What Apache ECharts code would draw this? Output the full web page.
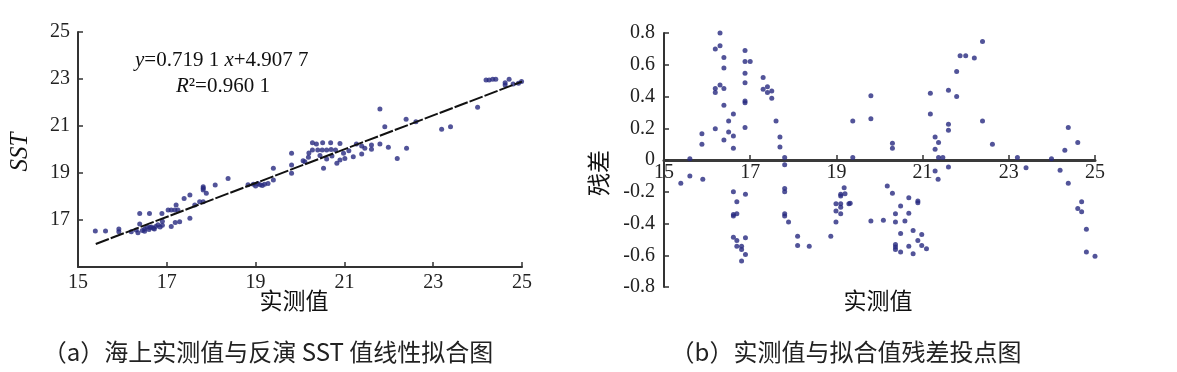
<!DOCTYPE html>
<html>
<head>
<meta charset="utf-8">
<style>
html,body{margin:0;padding:0;background:#fff;}
#c{width:1177px;height:372px;}
</style>
<script src="https://cdn.jsdelivr.net/npm/echarts@6/dist/echarts.min.js"></script>
</head>
<body>
<div id="c"></div>
<script>
// ---- data (left: measured vs retrieved SST) ----
var xTicks = [15, 17, 19, 21, 23, 25];
var fitPoints = [[15.4, 15.98], [25.0, 22.89]];
var sstPoints = [
[15.39,16.53],[15.62,16.53],[15.92,16.62],[15.92,16.5],[16.2,16.5],[16.31,16.57],[16.35,16.46],[16.39,16.83],
[16.39,17.28],[16.61,17.28],[16.45,16.55],[16.5,16.62],[16.55,16.7],[16.6,16.6],[16.65,16.7],[16.7,16.65],
[16.75,16.72],[16.8,16.8],[16.85,16.7],[16.9,16.95],[16.9,16.78],[16.62,16.68],[16.72,16.62],[16.5,16.52],
[16.89,17.28],[17.03,17.43],[17.1,17.43],[17.18,17.43],[17.21,17.64],[17.1,16.72],[17.19,16.89],[17.29,16.93],
[17.25,17.43],[17.39,17.92],[17.52,18.06],[17.52,17.07],[17.63,17.64],[17.74,17.78],[17.82,17.78],[17.82,18.42],
[17.82,18.35],[17.82,18.28],[17.89,18.14],[18.09,18.49],[18.38,18.77],[18.83,18.5],[18.95,18.52],[19.0,18.45],
[19.05,18.55],[19.1,18.5],[19.15,18.47],[19.2,18.52],[19.28,18.55],[19.4,19.2],[19.4,18.7],[19.81,19.84],
[19.81,19.34],[19.81,18.99],[20.07,19.52],[20.19,19.67],[20.11,19.48],[20.28,20.29],[20.37,20.23],[20.51,20.29],
[20.69,20.29],[20.9,20.26],[20.28,19.98],[20.4,19.98],[20.5,19.98],[20.6,19.98],[20.7,20.0],[20.8,19.98],
[20.53,19.2],[20.98,19.84],[21.01,19.62],[20.9,19.55],[20.83,19.41],[21.2,19.69],[21.39,19.81],[21.27,20.23],
[21.39,20.15],[21.46,20.05],[21.61,20.19],[21.61,20.01],[21.8,20.23],[21.99,20.1],[22.19,19.62],[22.4,20.05],
[21.8,21.72],[21.91,20.97],[22.39,21.29],[22.61,21.18],[23.19,20.86],[23.39,20.97],[24.0,21.8],[24.19,22.96],
[24.26,22.96],[24.34,22.99],[24.41,22.99],[24.62,22.84],[24.62,22.74],[24.71,22.99],[24.8,22.79],[24.92,22.82],
[24.99,22.89],[20.45,19.75],[20.6,19.6],[20.72,19.72],[21.1,19.95],[20.2,19.85]
];
// ---- data (right: residuals) ----
var residualPoints = [
[16.30,0.80],[16.19,0.70],[16.30,0.72],[16.39,0.645],[16.39,0.58],[16.19,0.45],[16.19,0.425],[16.30,0.473],
[16.39,0.45],[16.39,0.345],[16.19,0.197],[16.39,0.126],[16.61,0.29],[16.5,0.246],[16.5,0.177],[16.61,0.151],
[16.61,0.074],[15.88,0.166],[15.88,0.099],[15.6,0.008],[16.88,0.69],[16.88,0.62],[17.0,0.62],[16.88,0.547],
[16.88,0.486],[16.88,0.372],[16.88,0.36],[16.88,0.204],[17.3,0.519],[17.3,0.446],[17.4,0.425],[17.4,0.462],
[17.5,0.435],[17.5,0.389],[17.6,0.246],[17.69,0.145],[17.69,0.082],[17.8,0.015],[17.8,-0.03],[19.38,0.246],
[19.38,0.015],
[15.39,-0.147],[15.6,-0.1],[15.9,-0.122],[16.61,-0.2],[16.69,-0.263],[16.61,-0.343],[16.69,-0.339],[16.61,-0.353],
[16.89,-0.216],[16.61,-0.486],[16.69,-0.507],[16.69,-0.543],[16.8,-0.543],[16.8,-0.563],[16.89,-0.49],[16.89,-0.595],
[16.8,-0.637],[17.8,-0.179],[17.8,-0.2],[17.8,-0.339],[17.8,-0.353],[17.89,-0.391],[18.1,-0.48],[18.1,-0.538],
[18.37,-0.543],[18.87,-0.48],[18.99,-0.391],[18.99,-0.276],[18.99,-0.322],[19.1,-0.276],[19.1,-0.297],[19.1,-0.339],
[19.1,-0.216],[19.1,-0.227],[19.18,-0.175],[19.2,-0.213],[19.29,-0.276],
[19.8,0.404],[19.8,0.26],[20.3,0.105],[20.3,0.074],[21.18,0.42],[21.18,0.29],[21.29,0.145],[21.29,0.067],
[21.37,0.11],[21.37,0.015],[21.47,0.015],[21.6,0.44],[21.6,0.225],[21.6,0.187],[21.79,0.557],[21.79,0.4],
[21.87,0.656],[22.0,0.656],[22.2,0.642],[22.39,0.746],[22.39,0.246],[22.62,0.099],[23.2,0.015],[23.99,0.008],
[24.3,0.061],[24.38,0.204],[24.6,0.11],
[21.29,-0.069],[21.36,-0.122],[21.6,-0.044],[23.4,-0.049],[24.19,-0.065],[24.38,-0.147],[20.18,-0.164],[20.3,-0.21],
[19.8,-0.385],[20.09,-0.38],[19.32,-0.273],[20.37,-0.339],[20.37,-0.391],[20.49,-0.29],[20.68,-0.238],[20.68,-0.336],
[20.59,-0.385],[20.89,-0.259],[20.89,-0.269],[20.49,-0.463],[20.78,-0.444],[20.98,-0.469],[20.89,-0.507],[20.37,-0.532],
[20.37,-0.548],[20.37,-0.563],[20.49,-0.58],[20.68,-0.543],[20.78,-0.591],[20.98,-0.538],[21.09,-0.559],[24.69,-0.263],
[24.6,-0.305],[24.69,-0.326],[24.8,-0.437],[24.8,-0.58],[25.0,-0.606]
];
var equationText = '{i|y}=0.719 1 {i|x}+4.907 7';
var r2Text = '{i|R}²=0.960 1';
var captionA = '（a）海上实测值与反演 SST 值线性拟合图';
var captionB = '（b）实测值与拟合值残差投点图';

var SERIF = 'Liberation Serif';
var AX = '#333';
var DOT = '#272980';
var LBL = 20;

function axisCommon(extra) {
  var o = {
    type: 'value',
    axisLine: {show: true, lineStyle: {color: AX, width: 2}},
    axisTick: {show: true, inside: true, length: 5, lineStyle: {color: AX, width: 1.5}},
    splitLine: {show: false},
    axisLabel: {color: '#222', fontFamily: SERIF, fontSize: LBL}
  };
  for (var k in extra) o[k] = extra[k];
  return o;
}

var chart = echarts.init(document.getElementById('c'), null, {renderer: 'canvas'});
chart.setOption({
  backgroundColor: '#fff',
  animation: false,
  grid: [
    {left: 78, top: 32, width: 444, height: 235},
    {left: 664, top: 33, width: 431, height: 254}
  ],
  xAxis: [
    axisCommon({gridIndex: 0, min: 15, max: 25, interval: 2,
      axisLabel: {color: '#222', fontFamily: SERIF, fontSize: LBL, margin: 6}}),
    axisCommon({gridIndex: 1, min: 15, max: 25, interval: 2, position: 'bottom', offset: -127,
      axisLine: {show: true, onZero: false, lineStyle: {color: '#3a3a3a', width: 3}},
      axisLabel: {color: '#222', fontFamily: SERIF, fontSize: LBL, margin: 3}})
  ],
  yAxis: [
    axisCommon({gridIndex: 0, min: 15, max: 25, interval: 2,
      axisLabel: {color: '#222', fontFamily: SERIF, fontSize: LBL, margin: 8,
        formatter: function (v) { return v === 15 ? '' : String(v); }}}),
    axisCommon({gridIndex: 1, min: -0.8, max: 0.8, interval: 0.2,
      axisLabel: {color: '#222', fontFamily: SERIF, fontSize: LBL, margin: 9,
        formatter: function (v) { return String(Math.round(v * 10) / 10); }}})
  ],
  series: [
    {type: 'scatter', xAxisIndex: 0, yAxisIndex: 0, data: sstPoints,
     symbol: 'circle', symbolSize: 5, itemStyle: {color: DOT}},
    {type: 'line', xAxisIndex: 0, yAxisIndex: 0, data: fitPoints, symbol: 'none',
     lineStyle: {color: '#111', width: 2, type: [14, 2]}},
    {type: 'scatter', xAxisIndex: 1, yAxisIndex: 1, data: residualPoints,
     symbol: 'circle', symbolSize: 5, itemStyle: {color: DOT}}
  ],
  graphic: [
    {type: 'text', left: 135, top: 50, style: {text: equationText, fill: '#111',
      font: '21px "Liberation Serif"', rich: {i: {fontStyle: 'italic', fontFamily: SERIF, fontSize: 21}}}},
    {type: 'text', left: 176, top: 76, style: {text: r2Text, fill: '#111',
      font: '21px "Liberation Serif"', rich: {i: {fontStyle: 'italic', fontFamily: SERIF, fontSize: 21}}}},
    {type: 'text', x: 20, y: 152, rotation: Math.PI / 2, style: {text: 'SST', fill: '#111',
      font: 'italic 25px "Liberation Serif"', textAlign: 'center', textVerticalAlign: 'middle'}},
    {type: 'text', x: 294, y: 300, style: {text: '实测值', fill: '#111',
      font: '23px "Noto Sans CJK SC"', textAlign: 'center', textVerticalAlign: 'middle'}},
    {type: 'text', x: 598, y: 173, rotation: Math.PI / 2, style: {text: '残差', fill: '#111',
      font: '23px "Noto Sans CJK SC"', textAlign: 'center', textVerticalAlign: 'middle'}},
    {type: 'text', x: 878, y: 300, style: {text: '实测值', fill: '#111',
      font: '23px "Noto Sans CJK SC"', textAlign: 'center', textVerticalAlign: 'middle'}},
    {type: 'text', x: 268, y: 352, style: {text: captionA, fill: '#222',
      font: '24px "Noto Sans CJK SC"', textAlign: 'center', textVerticalAlign: 'middle'}},
    {type: 'text', x: 846, y: 352, style: {text: captionB, fill: '#222',
      font: '24px "Noto Sans CJK SC"', textAlign: 'center', textVerticalAlign: 'middle'}}
  ]
});
</script>
</body>
</html>
